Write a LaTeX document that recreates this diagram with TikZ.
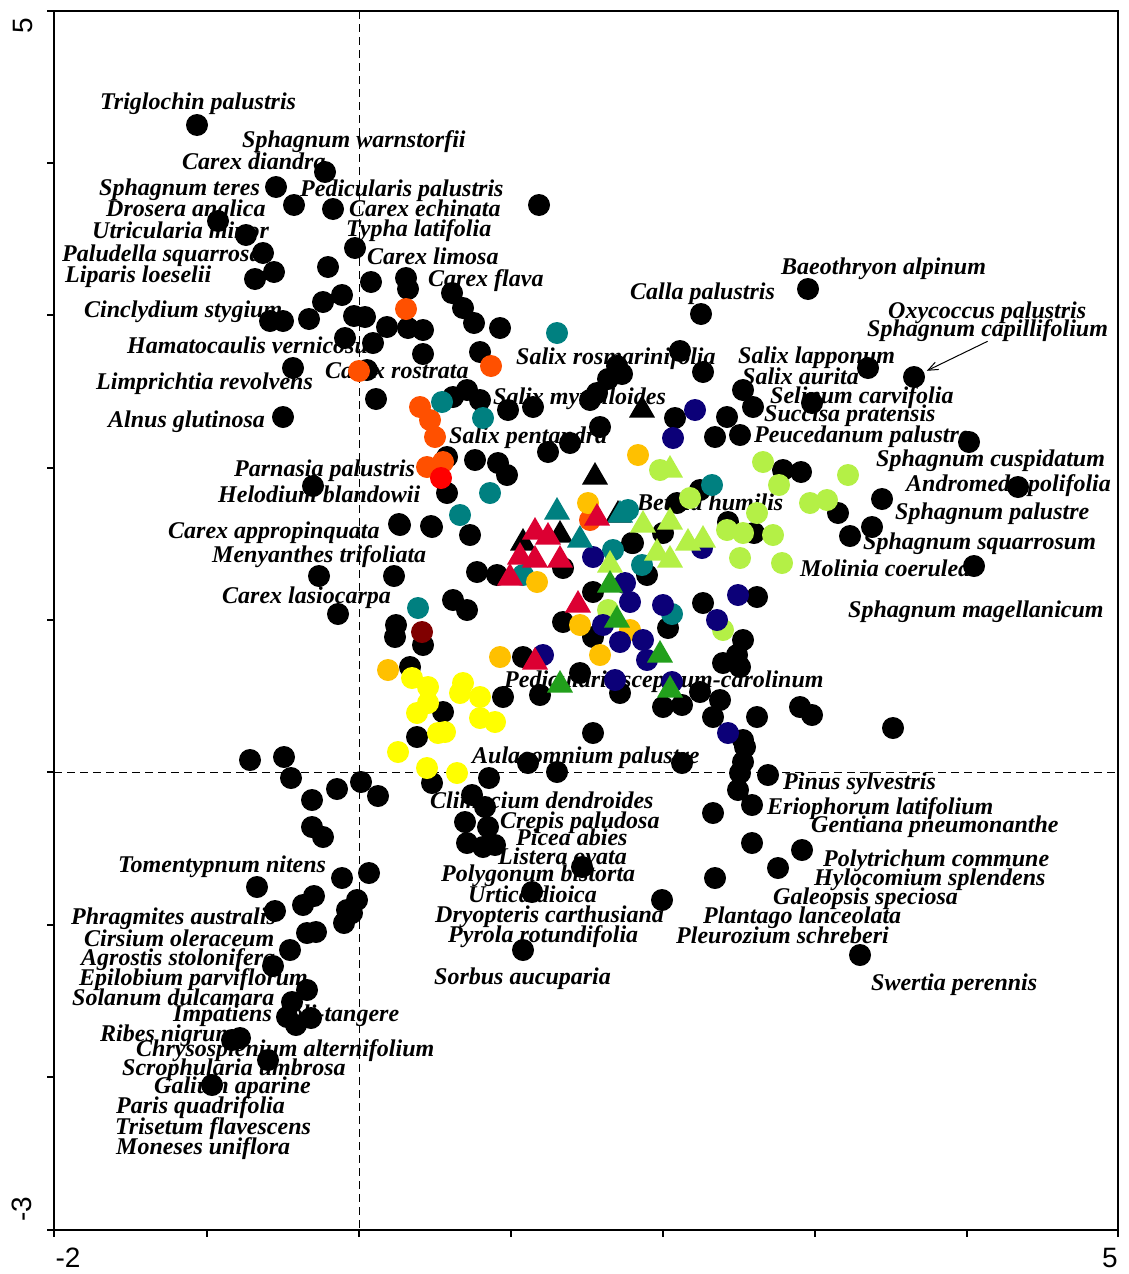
\documentclass[tikz,border=0pt]{standalone}
\usepackage{fontspec}
\setmainfont{Liberation Serif}
\newfontfamily\axisfont{Liberation Sans}
\usepackage{xcolor}
\usetikzlibrary{arrows.meta, shapes.geometric}

\definecolor{orred}{RGB}{255,80,0}
\definecolor{brightred}{RGB}{255,0,0}
\definecolor{crim}{RGB}{220,0,50}
\definecolor{tealc}{RGB}{0,128,128}
\definecolor{amber}{RGB}{255,192,0}
\definecolor{yel}{RGB}{255,255,0}
\definecolor{navyc}{RGB}{12,0,120}
\definecolor{lgreen}{RGB}{180,240,70}
\definecolor{dgreen}{RGB}{34,160,28}
\definecolor{maroonc}{RGB}{128,0,0}

\tikzset{
  spp/.style={anchor=base west, inner sep=0pt, font=\fontsize{24}{26}\selectfont\bfseries\itshape},
  site/.style={circle, fill=#1, minimum size=22pt, inner sep=0pt},
  tsite/.style={regular polygon, regular polygon sides=3, fill=#1, minimum size=30pt, inner sep=0pt},
  ticklab/.style={font=\fontsize{28}{30}\selectfont\axisfont, inner sep=0pt}
}

\begin{document}
\begin{tikzpicture}[x=1pt, y=-1pt]
  \useasboundingbox (0,0) rectangle (1128,1274);

  % frame and zero lines
  \draw[line width=2pt] (54,11) rectangle (1118,1230);
  \draw[dash pattern=on 8pt off 5pt] (359,11) -- (359,1230);
  \draw[dash pattern=on 8pt off 5pt] (54,772) -- (1118,772);
  \foreach \y in {11,163,315,468,620,772,925,1077,1230}
    \draw[line width=2pt] (47,\y) -- (54,\y);
  \foreach \x in {54,207,359,511,663,815,967,1118}
    \draw[line width=2pt] (\x,1230) -- (\x,1237);

  % axis labels
  \node[ticklab, rotate=90] (ytop) at (23,26) {5};
  \node[ticklab, rotate=90] (ybot) at (22,1209) {-3};
  \node[ticklab] (xleft) at (68,1258) {-2};
  \node[ticklab] (xright) at (1110,1258) {5};

  % species names
  \foreach \x/\y/\t [count=\i] in {
    100/101/Triglochin palustris, 242/139/Sphagnum warnstorfii, 182/161/Carex diandra,
    99/187/Sphagnum teres, 300/188/Pedicularis palustris, 106/208/Drosera anglica,
    349/208/Carex echinata, 92/230/Utricularia minor, 346/228/Typha latifolia,
    62/253/Paludella squarrosa, 367/256/Carex limosa, 65/274/Liparis loeselii,
    428/278/Carex flava, 84/309/Cinclydium stygium, 630/291/Calla palustris,
    781/266/Baeothryon alpinum, 888/310/Oxycoccus palustris, 127/345/Hamatocaulis vernicosus,
    516/356/Salix rosmarinifolia, 738/355/Salix lapponum, 96/381/Limprichtia revolvens,
    325/370/Carex rostrata, 742/376/Salix aurita, 493/396/Salix myrtilloides,
    770/395/Selinum carvifolia, 108/419/Alnus glutinosa, 764/413/Succisa pratensis,
    449/435/Salix pentandra, 754/434/Peucedanum palustre, 876/458/Sphagnum cuspidatum,
    234/468/Parnasia palustris, 906/483/Andromeda polifolia, 218/494/Helodium blandowii,
    637/502/Betula humilis, 895/511/Sphagnum palustre, 168/530/Carex appropinquata,
    863/541/Sphagnum squarrosum, 212/554/Menyanthes trifoliata, 800/568/Molinia coerulea,
    222/595/Carex lasiocarpa, 848/609/Sphagnum magellanicum,
    504/679/Pedicularis sceptrum-carolinum, 472/755/Aulacomnium palustre,
    783/781/Pinus sylvestris, 430/800/Climacium dendroides, 767/806/Eriophorum latifolium,
    500/820/Crepis paludosa, 811/824/Gentiana pneumonanthe, 516/837/Picea abies,
    118/864/Tomentypnum nitens, 498/856/Listera ovata, 823/858/Polytrichum commune,
    441/873/Polygonum bistorta, 814/877/Hylocomium splendens, 468/894/Urtica dioica,
    773/896/Galeopsis speciosa, 71/916/Phragmites australis, 435/914/Dryopteris carthusiana,
    703/915/Plantago lanceolata, 84/938/Cirsium oleraceum, 448/934/Pyrola rotundifolia,
    676/935/Pleurozium schreberi, 81/957/Agrostis stolonifera, 79/977/Epilobium parviflorum,
    434/976/Sorbus aucuparia, 871/982/Swertia perennis, 72/997/Solanum dulcamara,
    173/1013/Impatiens noli-tangere, 100/1033/Ribes nigrum,
    136/1048/Chrysosplenium alternifolium, 122/1067/Scrophularia umbrosa,
    154/1085/Galium aparine, 116/1105/Paris quadrifolia, 115/1126/Trisetum flavescens,
    116/1146/Moneses uniflora}
    \node[spp] (sp\i) at (\x,\y+8) {\t};
  \node[spp] (capil) at (867,336) {Sphagnum capillifolium};

  % black sites
  \foreach \x/\y [count=\i] in {
    197/125, 325/172, 276/187, 294/205, 333/209, 218/221, 246/235, 355/248, 263/253,
    274/272, 255/279, 328/267, 371/282, 406/278, 408/289, 452/293, 463/308, 474/323,
    500/328, 323/302, 342/295, 270/321, 283/321, 309/319, 354/316, 365/317, 345/338,
    373/343, 387/327, 408/328, 423/330, 423/354, 480/352, 367/370, 293/368, 376/399,
    283/417, 313/486, 399/524, 431/526, 319/576, 394/576, 338/614, 396/625, 395/637,
    423/645, 539/205, 808/289, 701/314, 680/351, 617/366, 622/374, 608/379, 590/400,
    597/393, 600/427, 570/443, 548/452, 508/410, 533/407, 453/397, 467/390, 480/400,
    447/493, 447/457, 475/460, 498/463, 507/475, 675/418, 703/372, 743/390, 753/407,
    727/417, 715/437, 740/435, 812/403, 868/368, 969/442, 1018/487, 882/499, 838/513,
    872/527, 850/536, 974/566, 783/470, 801/472, 700/490, 677/503, 663/533, 632/543,
    647/575, 728/522, 754/533, 400/525, 432/527, 470/535, 633/543, 477/572, 497/575,
    563/568, 593/592, 453/600, 467/610, 668/628, 563/622, 593/637, 523/657, 580/673,
    620/693, 663/707, 682/705, 503/697, 540/695, 410/667, 443/712, 417/737, 593/733,
    703/603, 757/597, 743/640, 737/655, 723/663, 740/667, 700/692, 720/700, 713/717,
    757/717, 800/707, 812/715, 893/728, 743/740, 745/747, 743/762, 740/773, 768/775,
    738/790, 752/805, 713/813, 752/843, 802/850, 778/868, 715/878, 682/763, 528/763,
    557/772, 489/778, 432/783, 472/795, 485/807, 465/822, 488/827, 467/843, 483/847,
    495/845, 582/867, 532/892, 662/900, 523/950, 860/955, 250/760, 284/757, 291/778,
    312/800, 337/789, 361/782, 378/796, 312/827, 323/837, 342/878, 369/873, 357/900,
    347/910, 344/923, 352/913, 257/887, 275/911, 314/896, 303/905, 316/932, 307/933,
    290/950, 273/966, 307/990, 292/1002, 287/1017, 296/1025, 311/1018, 240/1038,
    232/1040, 268/1060, 212/1085}
    \node[site=black] (b\i) at (\x,\y) {};
  \node[site=black] (capdot) at (914,377) {};
  \foreach \x/\y [count=\i] in {642/410, 595/477, 523/543, 560/535, 618/515}
    \node[tsite=black] (bt\i) at (\x,\y) {};

  % coloured sites
  \foreach \x/\y [count=\i] in {406/309, 359/371, 491/366, 420/407, 430/420, 435/437,
    427/467, 443/462, 590/520}
    \node[site=orred] (o\i) at (\x,\y) {};
  \node[site=brightred] (r1) at (441,478) {};
  \foreach \x/\y [count=\i] in {523/575, 557/333, 442/402, 483/418, 490/493, 460/515,
    628/510, 613/550, 642/565, 672/614, 418/608, 712/485}
    \node[site=tealc] (t\i) at (\x,\y) {};
  \foreach \x/\y [count=\i] in {638/455, 588/503, 537/582, 580/625, 630/630, 600/655,
    500/657, 388/670}
    \node[site=amber] (a\i) at (\x,\y) {};
  \foreach \x/\y [count=\i] in {412/678, 428/687, 417/713, 428/703, 463/683, 460/693,
    480/697, 480/718, 495/722, 438/733, 445/732, 398/752, 427/768, 457/773}
    \node[site=yel] (y\i) at (\x,\y) {};
  \foreach \x/\y [count=\i] in {660/470, 757/513, 763/462, 779/485, 848/475, 690/498,
    810/503, 827/500, 727/530, 743/533, 773/535, 740/558, 782/563, 608/610, 723/630}
    \node[site=lgreen] (g\i) at (\x,\y) {};
  \foreach \x/\y [count=\i] in {695/410, 673/438, 593/557, 625/583, 630/602, 663/605,
    603/625, 620/642, 643/640, 647/660, 543/655, 615/680, 672/682, 702/548, 738/595,
    717/620, 728/733}
    \node[site=navyc] (n\i) at (\x,\y) {};
  \node[site=maroonc] (m1) at (422,632) {};

  % triangle sites
  \foreach \x/\y [count=\i] in {557/512, 620/515, 580/540}
    \node[tsite=tealc] (tt\i) at (\x,\y) {};
  \foreach \x/\y [count=\i] in {670/470, 643/525, 670/522, 688/543, 703/540, 657/553,
    670/560, 610/565}
    \node[tsite=lgreen] (gt\i) at (\x,\y) {};
  \foreach \x/\y [count=\i] in {610/585, 617/620, 660/655, 560/685, 670/690}
    \node[tsite=dgreen] (dt\i) at (\x,\y) {};
  \foreach \x/\y [count=\i] in {597/518, 535/532, 548/537, 520/557, 535/560, 560/560,
    510/578, 578/605, 535/662}
    \node[tsite=crim] (rt\i) at (\x,\y) {};

  % pointer
  \draw[line width=1pt, -{Straight Barb[length=10pt,width=8pt]}, shorten >=3pt]
    (capil.south) -- (capdot);
\end{tikzpicture}
\end{document}
